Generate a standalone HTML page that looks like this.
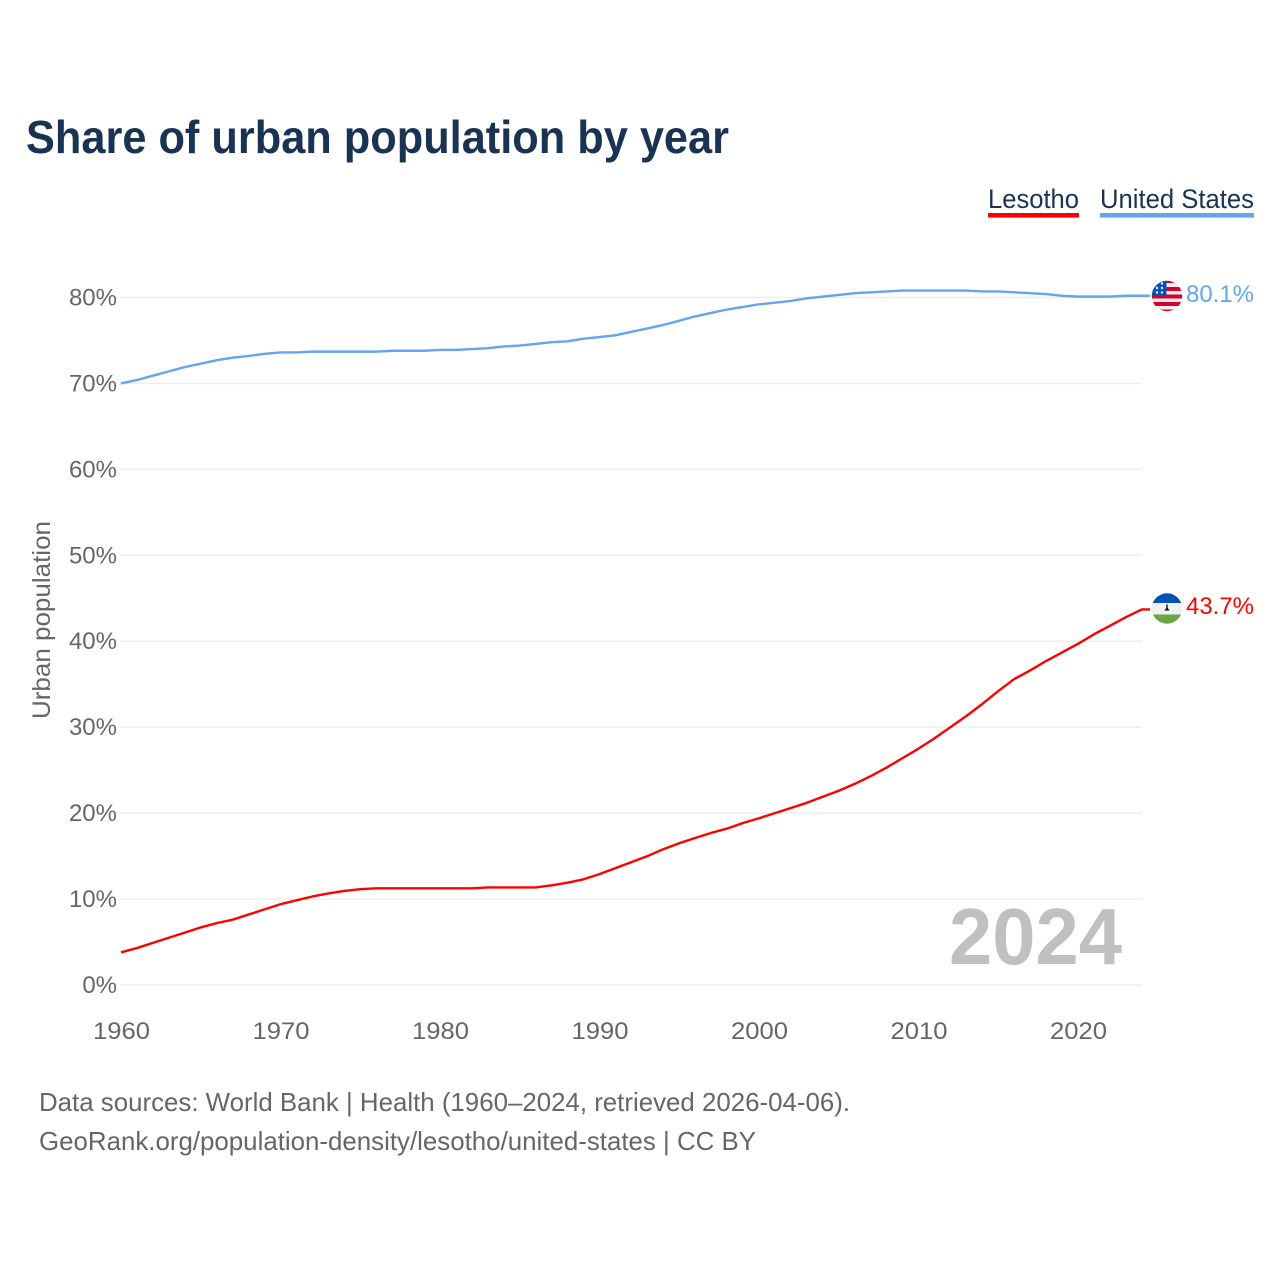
<!DOCTYPE html>
<html lang="en">
<head>
<meta charset="utf-8">
<title>Share of urban population by year</title>
<style>
html,body{margin:0;padding:0;background:#fff;}
svg{display:block;font-family:"Liberation Sans",sans-serif;}
</style>
</head>
<body>
<svg id="chart" xmlns="http://www.w3.org/2000/svg" width="1280" height="1280" viewBox="0 0 1280 1280">
  <defs>
    <clipPath id="us-clip"><circle cx="1167" cy="296" r="15.2"/></clipPath>
    <clipPath id="ls-clip"><circle cx="1167" cy="608.5" r="15.2"/></clipPath>
  </defs>
  <rect x="0" y="0" width="1280" height="1280" fill="#ffffff"/>
  <text x="26" y="153" font-size="46" font-weight="700" fill="#1a3353" textLength="703" lengthAdjust="spacingAndGlyphs">Share of urban population by year</text>

  <g>
    <text x="988" y="208" font-size="27" fill="#1a3353" textLength="91" lengthAdjust="spacingAndGlyphs">Lesotho</text>
    <rect x="988" y="213" width="91" height="4.6" fill="#ff0000"/>
  </g>
  <g>
    <text x="1100" y="208" font-size="27" fill="#1a3353" textLength="154" lengthAdjust="spacingAndGlyphs">United States</text>
    <rect x="1100" y="213" width="154" height="4.6" fill="#63a6ec"/>
  </g>

  <g id="grid"></g>
  <g id="y-ticks"></g>
  <g id="x-ticks"></g>
  <text transform="translate(50,620) rotate(-90)" text-anchor="middle" font-size="25" fill="#666666" textLength="198" lengthAdjust="spacingAndGlyphs">Urban population</text>
  <text x="949" y="964" font-size="80" font-weight="700" fill="#c0c0c0" textLength="173" lengthAdjust="spacingAndGlyphs">2024</text>
  <g id="series"></g>

  <g clip-path="url(#us-clip)">
    <rect x="1150" y="280" width="34" height="33" fill="#f0f0f0"/>
    <rect x="1150" y="280" width="34" height="3" fill="#d80027"/>
    <rect x="1150" y="287" width="34" height="4" fill="#d80027"/>
    <rect x="1150" y="294.500" width="34" height="4" fill="#d80027"/>
    <rect x="1150" y="302" width="34" height="4" fill="#d80027"/>
    <rect x="1150" y="309.500" width="34" height="4" fill="#d80027"/>
    <rect x="1150" y="280" width="16.500" height="16" fill="#0052b4"/>
    <circle cx="1157" cy="292.500" r="1.200" fill="#f0f0f0"/>
    <circle cx="1162" cy="292.500" r="1.200" fill="#f0f0f0"/>
    <circle cx="1157" cy="288" r="1.200" fill="#f0f0f0"/>
    <circle cx="1162" cy="288" r="1.200" fill="#f0f0f0"/>
    <circle cx="1162" cy="283.500" r="1.200" fill="#f0f0f0"/>
  </g>
  <g clip-path="url(#ls-clip)">
    <rect x="1150" y="593" width="34" height="32" fill="#f0f0f0"/>
    <rect x="1150" y="593" width="34" height="10" fill="#0052b4"/>
    <rect x="1150" y="614.500" width="34" height="10" fill="#6da544"/>
    <path d="M1166.300 604.500h1.400v3.500l2 2.500h-5.400l2-2.500z" fill="#111111"/>
  </g>
  <text x="1186" y="302" font-size="24" fill="#63a6ec" textLength="68" lengthAdjust="spacingAndGlyphs">80.1%</text>
  <text x="1186" y="614" font-size="24" fill="#ff0000" textLength="68" lengthAdjust="spacingAndGlyphs">43.7%</text>

  <text x="39" y="1111" font-size="26" fill="#666666" textLength="811" lengthAdjust="spacingAndGlyphs">Data sources: World Bank | Health (1960–2024, retrieved 2026-04-06).</text>
  <text x="39" y="1150" font-size="26" fill="#666666" textLength="717" lengthAdjust="spacingAndGlyphs">GeoRank.org/population-density/lesotho/united-states | CC BY</text>
</svg>
<script>
const firstYear = 1960;
const yTickValues = [0, 10, 20, 30, 40, 50, 60, 70, 80];
const xTickValues = [1960, 1970, 1980, 1990, 2000, 2010, 2020];
const lesothoValues = [3.8, 4.3, 4.9, 5.5, 6.1, 6.7, 7.2, 7.6, 8.2, 8.8, 9.4, 9.85, 10.3, 10.65, 10.95, 11.15, 11.25, 11.25, 11.25, 11.25, 11.25, 11.25, 11.25, 11.35, 11.35, 11.35, 11.35, 11.6, 11.9, 12.3, 12.9, 13.6, 14.3, 15.0, 15.8, 16.5, 17.1, 17.7, 18.2, 18.85, 19.4, 20.0, 20.6, 21.2, 21.9, 22.6, 23.4, 24.3, 25.3, 26.4, 27.5, 28.7, 30.0, 31.3, 32.7, 34.2, 35.6, 36.6, 37.7, 38.7, 39.7, 40.8, 41.8, 42.8, 43.7];
const unitedStatesValues = [70.0, 70.4, 70.9, 71.4, 71.9, 72.3, 72.7, 73.0, 73.2, 73.45, 73.6, 73.6, 73.7, 73.7, 73.7, 73.7, 73.7, 73.8, 73.8, 73.8, 73.9, 73.9, 74.0, 74.1, 74.3, 74.4, 74.6, 74.8, 74.9, 75.2, 75.4, 75.6, 76.0, 76.4, 76.8, 77.3, 77.8, 78.2, 78.6, 78.9, 79.2, 79.4, 79.6, 79.9, 80.1, 80.3, 80.5, 80.6, 80.7, 80.8, 80.8, 80.8, 80.8, 80.8, 80.7, 80.7, 80.6, 80.5, 80.4, 80.2, 80.1, 80.1, 80.1, 80.2, 80.2];

const NS = 'http://www.w3.org/2000/svg';
function xScale(year) { return 121 + (year - 1960) * 15.95; }
function yScale(value) { return 985 - value * 8.594; }
function make(tag, parent, attrs) {
  const el = document.createElementNS(NS, tag);
  for (const key in attrs) el.setAttribute(key, attrs[key]);
  parent.appendChild(el);
  return el;
}
const gridGroup = document.getElementById('grid');
const yGroup = document.getElementById('y-ticks');
const xGroup = document.getElementById('x-ticks');
const seriesGroup = document.getElementById('series');

yTickValues.forEach(function (v) {
  const line = make('line', gridGroup, {x1: 120, x2: 1142, y1: yScale(v), y2: yScale(v), stroke: '#eeeeee', 'stroke-width': 1.4});
  
  
  const label = make('text', yGroup, {x: 117, y: yScale(v) + 8, 'text-anchor': 'end', 'font-size': 24, fill: '#666666'});
  
  
  label.textContent = v + '%';
});
xTickValues.forEach(function (y) {
  const label = make('text', xGroup, {x: xScale(y) + 0.5, y: 1039, 'text-anchor': 'middle', 'font-size': 24, fill: '#666666', textLength: 57, lengthAdjust: 'spacingAndGlyphs'});
  
  
  label.textContent = String(y);
});
function drawSeries(values, color) {
  const pts = values.map(function (v, i) { return xScale(firstYear + i).toFixed(2) + ',' + yScale(v).toFixed(2); });
  const lastY = yScale(values[values.length - 1]).toFixed(2);
  pts.push('1150,' + lastY);
  return make('polyline', seriesGroup, {points: pts.join(' '), fill: 'none', stroke: color, 'stroke-width': 2.4, 'stroke-linejoin': 'round'});
}
const lesothoLine = drawSeries(lesothoValues, '#ff0000');


const usLine = drawSeries(unitedStatesValues, '#63a6ec');


</script>
</body>
</html>
